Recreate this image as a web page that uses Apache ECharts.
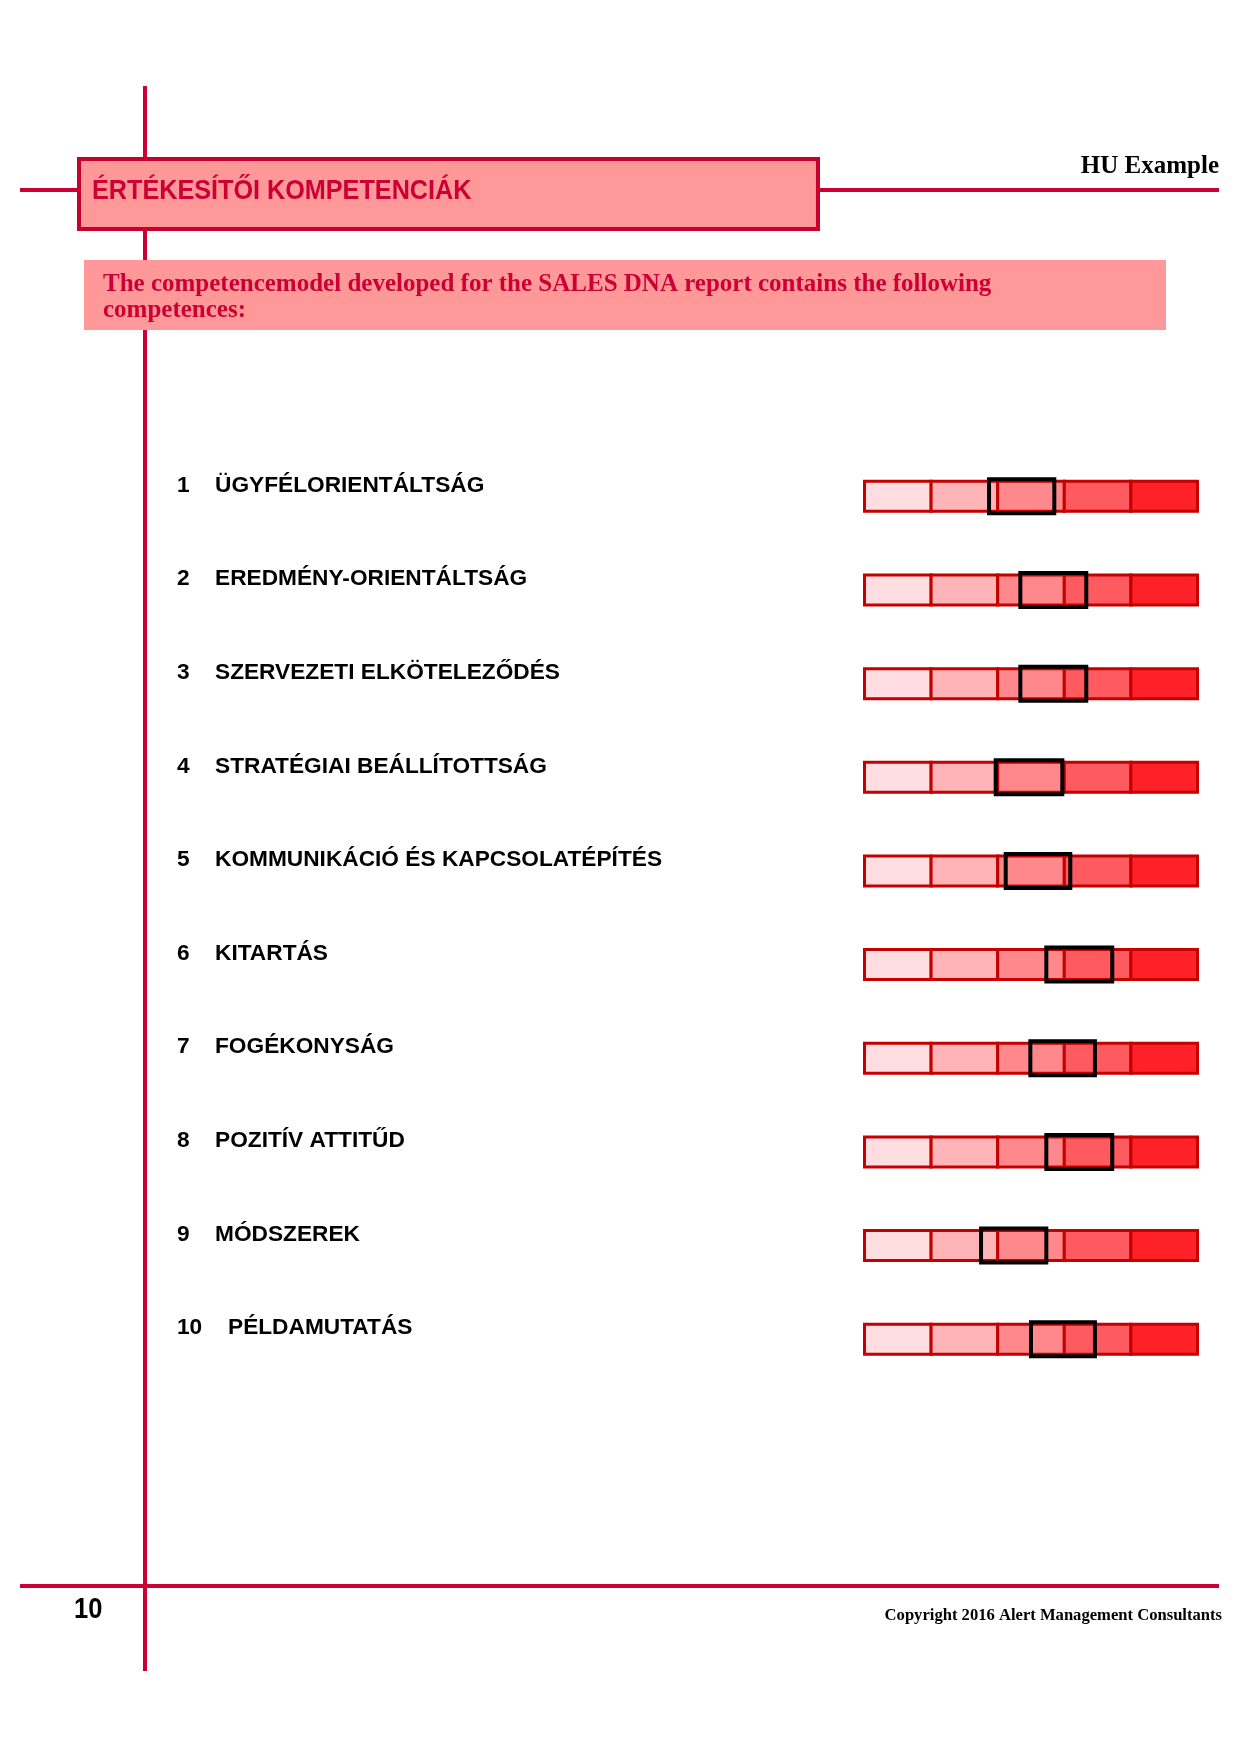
<!DOCTYPE html>
<html>
<head>
<meta charset="utf-8">
<script src="https://cdn.jsdelivr.net/npm/echarts@6/dist/echarts.min.js"></script>
<style>
html,body{margin:0;padding:0;background:#fff;}
#main{width:1240px;height:1754px;}
</style>
</head>
<body>
<div id="main"></div>
<script>
// ---- data ----
var itemNumbers = ['1','2','3','4','5','6','7','8','9','10'];
var categories = [
  'ÜGYFÉLORIENTÁLTSÁG',
  'EREDMÉNY-ORIENTÁLTSÁG',
  'SZERVEZETI ELKÖTELEZŐDÉS',
  'STRATÉGIAI BEÁLLÍTOTTSÁG',
  'KOMMUNIKÁCIÓ ÉS KAPCSOLATÉPÍTÉS',
  'KITARTÁS',
  'FOGÉKONYSÁG',
  'POZITÍV ATTITŰD',
  'MÓDSZEREK',
  'PÉLDAMUTATÁS'
];
// score range (box) on a 0..5 scale (one unit per band)
var rangeLow  = [1.87, 2.34, 2.34, 1.97, 2.12, 2.73, 2.49, 2.73, 1.75, 2.50];
var rangeHigh = [2.85, 3.33, 3.33, 2.97, 3.09, 3.72, 3.46, 3.72, 2.73, 3.46];
// scale bands
var bandEdges = [0, 1, 2, 3, 4, 5];
var bandColors = ['#ffdde0', '#ffb5b8', '#ff888c', '#ff5a60', '#ff2128'];

var crimson = '#cc0033';
var sans = '"Liberation Sans", Arial, Helvetica, sans-serif';
var serif = '"Liberation Serif", "Times New Roman", serif';

var chart = echarts.init(document.getElementById('main'), null, {renderer: 'canvas'});

var bandData = categories.map(function (c, i) { return [i]; });
var boxData = categories.map(function (c, i) { return [i, rangeLow[i], rangeHigh[i]]; });

var labelSize = 22.7;

var option = {
  backgroundColor: '#ffffff',
  animation: false,
  grid: {left: 864.5, width: 333, top: 449.5, height: 936.5},
  xAxis: {type: 'value', min: 0, max: 5, show: false},
  yAxis: {
    type: 'category',
    data: categories,
    inverse: true,
    axisLine: {show: false},
    axisTick: {show: false},
    splitLine: {show: false},
    axisLabel: {
      margin: 687.5,
      align: 'left',
      padding: [0, 0, 22, 0],
      formatter: function (value, idx) {
        var n = itemNumbers[idx];
        return (n.length > 1 ? '{n2|' : '{n|') + n + '}{t|' + value + '}';
      },
      rich: {
        n: {width: 38, fontFamily: sans, fontWeight: 'bold', fontSize: labelSize, color: '#000'},
        n2: {width: 51, fontFamily: sans, fontWeight: 'bold', fontSize: labelSize, color: '#000'},
        t: {fontFamily: sans, fontWeight: 'bold', fontSize: labelSize, color: '#000'}
      }
    }
  },
  series: [
    {
      type: 'custom',
      data: bandData,
      encode: {y: 0},
      z: 2,
      renderItem: function (params, api) {
        var row = api.value(0);
        var children = [];
        var h = 30;
        for (var k = 0; k < bandColors.length; k++) {
          var p0 = api.coord([bandEdges[k], row]);
          var p1 = api.coord([bandEdges[k + 1], row]);
          children.push({
            type: 'rect',
            shape: {x: p0[0], y: p0[1] - h / 2, width: p1[0] - p0[0], height: h},
            style: {fill: bandColors[k], stroke: '#c40000', lineWidth: 3}
          });
        }
        return {type: 'group', children: children};
      }
    },
    {
      type: 'custom',
      data: boxData,
      encode: {y: 0, x: [1, 2]},
      z: 3,
      renderItem: function (params, api) {
        var row = api.value(0);
        var a = api.coord([api.value(1), row]);
        var b = api.coord([api.value(2), row]);
        var h = 34;
        return {
          type: 'rect',
          shape: {x: a[0], y: a[1] - h / 2, width: b[0] - a[0], height: h},
          style: {fill: 'none', stroke: '#000000', lineWidth: 4}
        };
      }
    }
  ],
  graphic: [
    {type: 'line', z: 1, shape: {x1: 145, y1: 86, x2: 145, y2: 1671}, style: {stroke: crimson, lineWidth: 4}},
    {type: 'line', z: 1, shape: {x1: 20, y1: 190, x2: 1219, y2: 190}, style: {stroke: crimson, lineWidth: 4}},
    {type: 'line', z: 1, shape: {x1: 20, y1: 1586, x2: 1219, y2: 1586}, style: {stroke: crimson, lineWidth: 4}},
    {type: 'rect', z: 5, shape: {x: 79, y: 159, width: 739, height: 70}, style: {fill: '#ff9999', stroke: '#c8002e', lineWidth: 4}},
    {type: 'rect', z: 5, shape: {x: 81, y: 228, width: 739, height: 2}, style: {fill: '#c8002e'}},
    {type: 'text', z: 6, x: 92, y: 191, scaleX: 0.9, originX: 0, style: {text: 'ÉRTÉKESÍTŐI KOMPETENCIÁK', fill: crimson, font: 'bold 28px ' + sans, textAlign: 'left', textVerticalAlign: 'middle'}},
    {type: 'text', z: 6, x: 1219, y: 167, style: {text: 'HU Example', fill: '#000', font: 'bold 25px ' + serif, textAlign: 'right', textVerticalAlign: 'middle'}},
    {type: 'rect', z: 5, shape: {x: 84, y: 260, width: 1082, height: 70}, style: {fill: '#ff9999'}},
    {type: 'text', z: 6, x: 103, y: 285, style: {text: 'The competencemodel developed for the SALES DNA report contains the following', fill: crimson, font: 'bold 25px ' + serif, textAlign: 'left', textVerticalAlign: 'middle'}},
    {type: 'text', z: 6, x: 103, y: 311, style: {text: 'competences:', fill: crimson, font: 'bold 25px ' + serif, textAlign: 'left', textVerticalAlign: 'middle'}},
    {type: 'text', z: 6, x: 74, y: 1610, scaleX: 0.88, originX: 0, style: {text: '10', fill: '#000', font: 'bold 29px ' + sans, textAlign: 'left', textVerticalAlign: 'middle'}},
    {type: 'text', z: 6, x: 1222, y: 1616, style: {text: 'Copyright 2016 Alert Management Consultants', fill: '#000', font: 'bold 16.6px ' + serif, textAlign: 'right', textVerticalAlign: 'middle'}}
  ]
};
chart.setOption(option);
</script>
</body>
</html>
